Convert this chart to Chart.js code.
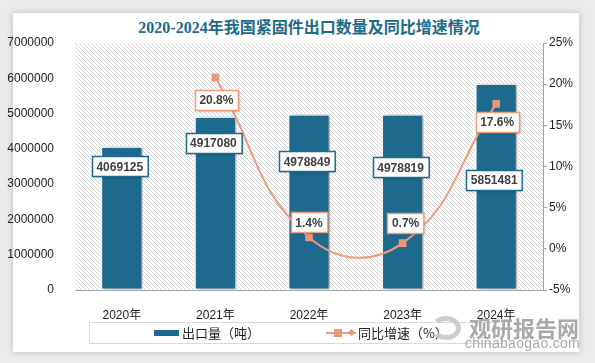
<!DOCTYPE html>
<html>
<head>
<meta charset="utf-8">
<script src="https://cdn.jsdelivr.net/npm/chart.js@4"></script>
<style>
  html, body { margin: 0; padding: 0; }
  body { width: 595px; height: 363px; background: #ececec; position: relative; overflow: hidden; font-family: "Noto Sans CJK SC", "Liberation Sans", sans-serif; }
  #card { position: absolute; left: 13px; top: 13px; width: 566px; height: 339px; background: #fff; box-shadow: 0 0 7px rgba(0,0,0,0.22); }
  #wrap { position: absolute; left: 0; top: 0; width: 595px; height: 363px; }
  #title { position: absolute; left: 0; width: 618px; top: 18px; height: 20px; text-align: center; font: bold 16px "Liberation Serif", "Noto Sans CJK SC", serif; line-height: 20px; color: #1d6a8a; white-space: nowrap; }
  #legend { position: absolute; left: 89px; top: 322px; width: 414px; height: 22px; border: 1px solid #d9d9d9; box-sizing: border-box; }
  .lg { position: absolute; top: 0; height: 20px; line-height: 20px; font-size: 13px; color: #222; white-space: nowrap; }
  #wm1 { position: absolute; left: 469px; top: 315px; height: 24px; font: bold 22px "Noto Sans CJK SC", sans-serif; line-height: 24px; color: #a9a9a9; white-space: nowrap; }
  #wm2 { position: absolute; left: 465px; top: 335px; height: 16px; font: 14px "Liberation Sans", sans-serif; line-height: 16px; color: #a9a9a9; letter-spacing: 0.3px; white-space: nowrap; }
  #logo { position: absolute; left: 431px; top: 316px; width: 30px; height: 24px; border-radius: 50%; border: 5px solid #c8c8c8; border-left-color: transparent; box-sizing: border-box; opacity: 0.9; }
</style>
</head>
<body>
<div id="card"></div>
<div id="title">2020-2024年我国紧固件出口数量及同比增速情况</div>
<div id="wrap"><canvas id="c" width="595" height="363"></canvas></div>
<div id="legend">
  <div style="position:absolute;left:64px;top:7px;width:25px;height:6px;background:#1d6a8e;"></div>
  <div class="lg" style="left:92px;">出口量（吨）</div>
  <div style="position:absolute;left:236px;top:9px;width:30px;height:2px;background:#ee9b7b;"></div>
  <div style="position:absolute;left:244px;top:6px;width:8px;height:8px;background:#e8977a;"></div>
  <div style="position:absolute;left:259px;top:7px;width:5px;height:5px;background:#e8977a;transform:rotate(45deg);"></div>
  <div class="lg" style="left:268px;">同比增速（%）</div>
</div>
<div id="logo"></div>
<div id="wm1">观研报告网</div>
<div id="wm2">chinabaogao.com</div>
<script>
const categories = ["2020年", "2021年", "2022年", "2023年", "2024年"];
const exportVolume = [4069125, 4917080, 4978849, 4978819, 5851481];
const growthRate = [null, 20.8, 1.4, 0.7, 17.6];
const volumeTicks = [0, 1000000, 2000000, 3000000, 4000000, 5000000, 6000000, 7000000];
const rateTicks = [-5, 0, 5, 10, 15, 20, 25];

// label placement (offsets from each mark, in px)
const barLabelDy = [20, 26.5, 47, 53, 96.5];
const lineLabelDy = [0, 22, -15, -20, 18];
const lineLabelDx = [0, 1, 0, 3, 1];

const hatchPlugin = {
  id: 'hatch',
  beforeDraw(chart) {
    const {ctx, chartArea: a} = chart;
    const t = document.createElement('canvas');
    t.width = 4; t.height = 4;
    const tc = t.getContext('2d');
    tc.fillStyle = '#ffffff'; tc.fillRect(0, 0, 4, 4);
    tc.strokeStyle = '#d4d4d4'; tc.lineWidth = 1;
    tc.beginPath(); tc.moveTo(-1, -1); tc.lineTo(5, 5); tc.stroke();
    tc.beginPath(); tc.moveTo(3, -1); tc.lineTo(5, 1); tc.stroke();
    tc.beginPath(); tc.moveTo(-1, 3); tc.lineTo(1, 5); tc.stroke();
    ctx.save();
    ctx.fillStyle = ctx.createPattern(t, 'repeat');
    ctx.fillRect(a.left, a.top, a.right - a.left, a.bottom - a.top);
    ctx.restore();
  }
};

const shadowPlugin = {
  id: 'barShadow',
  beforeDatasetDraw(chart, args) {
    if (chart.data.datasets[args.index].type === 'bar') {
      const ctx = chart.ctx;
      ctx.save();
      ctx.shadowColor = 'rgba(0,0,0,0.35)';
      ctx.shadowBlur = 4;
      ctx.shadowOffsetX = 2;
      ctx.shadowOffsetY = 0;
    }
  },
  afterDatasetDraw(chart, args) {
    if (chart.data.datasets[args.index].type === 'bar') chart.ctx.restore();
  }
};

function drawBox(ctx, text, cx, cy, border) {
  ctx.font = 'bold 12px "Liberation Sans", Arial, sans-serif';
  const w = ctx.measureText(text).width + 9;
  const h = 20;
  const x = Math.round(cx - w / 2) + 0.5, y = Math.round(cy - h / 2) + 0.5;
  ctx.save();
  ctx.shadowColor = 'rgba(0,0,0,0.18)';
  ctx.shadowBlur = 2; ctx.shadowOffsetX = 1; ctx.shadowOffsetY = 1;
  ctx.fillStyle = '#fff';
  ctx.fillRect(x, y, w, h);
  ctx.restore();
  ctx.strokeStyle = border; ctx.lineWidth = 1.5;
  ctx.strokeRect(x, y, w, h);
  ctx.fillStyle = '#404040';
  ctx.textAlign = 'center'; ctx.textBaseline = 'middle';
  ctx.fillText(text, cx, cy + 1);
}

const labelPlugin = {
  id: 'boxLabels',
  afterDatasetsDraw(chart) {
    const ctx = chart.ctx;
    ctx.save();
    const barMeta = chart.getDatasetMeta(1);
    barMeta.data.forEach((el, i) => {
      drawBox(ctx, String(exportVolume[i]), el.x - 2, el.y + barLabelDy[i], '#1d6a8e');
    });
    const lineMeta = chart.getDatasetMeta(0);
    lineMeta.data.forEach((el, i) => {
      if (growthRate[i] === null) return;
      drawBox(ctx, growthRate[i].toFixed(1) + '%', el.x + lineLabelDx[i], el.y + lineLabelDy[i], '#ee9b7b');
    });
    ctx.restore();
  }
};

const tickFont = { family: '"Liberation Sans", Arial, "Noto Sans CJK SC", sans-serif', size: 12 };

new Chart(document.getElementById('c'), {
  data: {
    labels: categories,
    datasets: [
      {
        type: 'line', label: '同比增速（%）', data: growthRate, yAxisID: 'y1', order: 0,
        borderColor: '#ee9b7b', borderWidth: 2, tension: 0.45,
        pointStyle: 'rect', pointRadius: 5.4, pointBackgroundColor: '#e8977a', pointBorderColor: '#e8977a', pointBorderWidth: 0
      },
      {
        type: 'bar', label: '出口量（吨）', data: exportVolume, yAxisID: 'y', order: 1,
        backgroundColor: '#1d6a8e', borderColor: '#ffffff', borderWidth: 1.5, borderSkipped: false,
        categoryPercentage: 1, barPercentage: 0.45
      }
    ]
  },
  options: {
    responsive: false, animation: false,
    layout: { padding: { top: 43, left: 0, right: 0, bottom: 43 } },
    plugins: { legend: { display: false }, tooltip: { enabled: false }, title: { display: false } },
    scales: {
      x: {
        grid: { display: false },
        border: { display: true, color: '#a6a6a6', width: 1 },
        ticks: { color: '#222', font: tickFont, padding: 10, maxRotation: 0 },
        afterFit(s) { s.height = 30; }
      },
      y: {
        position: 'left', min: 0, max: 7000000,
        grid: { display: false }, border: { display: false },
        afterBuildTicks(s) { s.ticks = volumeTicks.map(v => ({ value: v })); },
        ticks: { color: '#222', font: tickFont, padding: 13, callback: v => String(v) },
        afterFit(s) { s.width = 75; }
      },
      y1: {
        position: 'right', min: -5, max: 25,
        grid: { display: true, drawOnChartArea: false, drawTicks: true, tickLength: 4, color: '#a6a6a6' },
        border: { display: true, color: '#a6a6a6', width: 1 },
        afterBuildTicks(s) { s.ticks = rateTicks.map(v => ({ value: v })); },
        ticks: { color: '#222', font: tickFont, padding: 2, callback: v => v + '%' },
        afterFit(s) { s.width = 52; }
      }
    }
  },
  plugins: [hatchPlugin, shadowPlugin, labelPlugin]
});
</script>
</body>
</html>
